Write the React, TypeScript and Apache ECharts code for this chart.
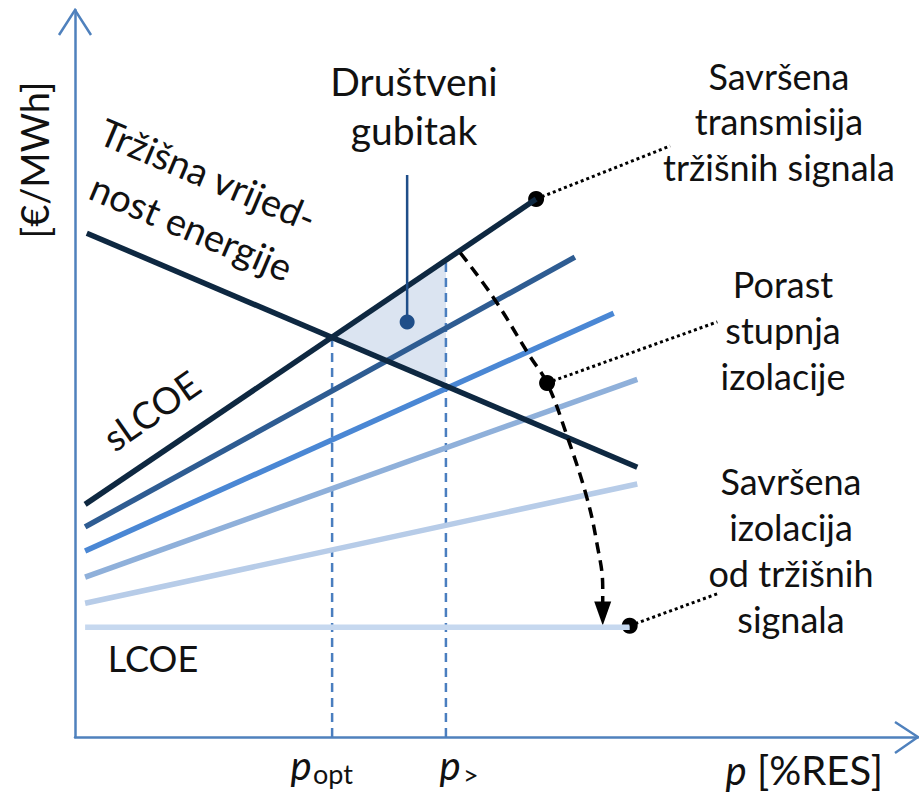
import React, { useEffect, useRef } from "react";
import * as echarts from "echarts";

// ---- data (abstract units: x = %RES share 0..100, y = €/MWh 0..100) ----
const marketValue = [[1.4, 69.3], [66.7, 37.1]];
const sLCOE = [[1.2, 32.0], [54.7, 74.0]];
const isolation1 = [[1.2, 28.9], [59.3, 66.0]];
const isolation2 = [[1.2, 25.6], [63.9, 58.3]];
const isolation3 = [[1.2, 22.0], [66.7, 49.2]];
const isolation4 = [[1.2, 18.4], [66.7, 34.8]];
const LCOE = [[1.2, 15.1], [65.8, 15.1]];

const pOpt = 30.5;
const pGreater = 44.0;
const pOptCross = [pOpt, 55.0];
const pGreaterTop = [pGreater, 65.6];
const pGreaterBottom = [pGreater, 48.3];
const lossArea = [pOptCross, pGreaterTop, pGreaterBottom];

const lossPointer = [[39.4, 77.3], [39.4, 57.1]];
const isolationArrow = [
  [45.7, 66.6], [49.6, 60.5], [54.0, 52.3], [56.0, 48.7], [58.4, 41.3],
  [60.7, 33.0], [61.9, 26.7], [62.6, 20.6], [62.6, 18.2],
];
const arrowHead = [[62.6, 17.0]];
const calloutTransmission = [[54.7, 74.0], [70.6, 81.3]];
const calloutIsolationGrowth = [[56.0, 48.7], [76.2, 57.1]];
const calloutIsolation = [[65.8, 15.3], [76.2, 19.7]];
const blackDots = [[54.7, 74.0], [56.0, 48.7], [65.8, 15.3]];
const lossDot = [[39.4, 57.1]];

const FONT = 'Lato, "Open Sans", sans-serif';
const AXIS = "#4f81bd";
const NAVY = "#0e2841";
const TXT = "#111111";
const LW = 5.5;

function lineSeries(data: number[][], color: string, width = LW, type: any = "solid", smooth: any = false) {
  return {
    type: "line",
    data,
    showSymbol: false,
    symbol: "none",
    smooth,
    silent: true,
    lineStyle: { color, width, type, cap: "butt" },
  };
}

function txt(text: string, x: number, y: number, size: number, extra: any = {}, align = "center") {
  return {
    type: "text",
    x,
    y,
    rotation: extra.rotation || 0,
    style: {
      text,
      fill: TXT,
      fontSize: size,
      fontFamily: FONT,
      fontStyle: extra.italic ? "italic" : "normal",
      lineHeight: extra.lineHeight,
      align,
      verticalAlign: "middle",
      textAlign: align,
      textVerticalAlign: "middle",
    },
  };
}

export default function App() {
  const ref = useRef<HTMLDivElement>(null);
  useEffect(() => {
    if (!ref.current) return;
    const chart = echarts.init(ref.current, undefined, { renderer: "svg" });
    const axisCommon = {
      type: "value",
      min: 0,
      max: 100,
      axisLine: { show: true, onZero: true, lineStyle: { color: AXIS, width: 2.5 } },
      axisTick: { show: false },
      axisLabel: { show: false },
      splitLine: { show: false },
    };
    chart.setOption({
      animation: false,
      backgroundColor: "#ffffff",
      grid: { left: 75, right: 1, top: 10, bottom: 61, containLabel: false },
      xAxis: axisCommon,
      yAxis: axisCommon,
      series: [
        {
          type: "custom",
          data: lossArea,
          encode: { x: 0, y: 1 },
          silent: true,
          renderItem: (params: any, api: any) => {
            if (params.dataIndex !== 0) return null;
            const pts = lossArea.map((p) => api.coord(p));
            return { type: "polygon", shape: { points: pts }, style: { fill: "#dbe4f1" } };
          },
        },
        lineSeries([[pOpt, 0], pOptCross], "#4a7ebf", 2.5, [9, 6]),
        lineSeries([[pGreater, 0], pGreaterTop], "#4a7ebf", 2.5, [9, 6]),
        lineSeries(LCOE, "#c6d8ef"),
        lineSeries(isolation4, "#b7cce8"),
        lineSeries(isolation3, "#8fb0da"),
        lineSeries(isolation2, "#4a87d4"),
        lineSeries(isolation1, "#2e5c92"),
        lineSeries(marketValue, NAVY),
        lineSeries(sLCOE, NAVY),
        lineSeries(lossPointer, "#1f4e89", 2.5),
        lineSeries(isolationArrow, "#000000", 3.5, [11, 7], 0.4),
        lineSeries(calloutTransmission, "#000000", 3, [3, 3]),
        lineSeries(calloutIsolationGrowth, "#000000", 3, [3, 3]),
        lineSeries(calloutIsolation, "#000000", 3, [3, 3]),
        {
          type: "scatter",
          data: arrowHead,
          symbol: "triangle",
          symbolRotate: 180,
          symbolSize: [17, 24],
          itemStyle: { color: "#000000", opacity: 1 },
          silent: true,
        },
        {
          type: "scatter",
          data: blackDots,
          symbolSize: 16,
          itemStyle: { color: "#000000", opacity: 1 },
          silent: true,
        },
        {
          type: "scatter",
          data: lossDot,
          symbolSize: 15,
          itemStyle: { color: "#1f4e89", opacity: 1 },
          silent: true,
        },
      ],
      graphic: [
        { type: "polyline", shape: { points: [[59, 35], [75, 10], [91, 35]] }, style: { stroke: AXIS, lineWidth: 2.5, fill: "none" } },
        { type: "polyline", shape: { points: [[895, 722], [918, 737], [895, 753]] }, style: { stroke: AXIS, lineWidth: 2.5, fill: "none" } },
        txt("[€/MWh]", 34, 160, 38, { rotation: Math.PI / 2 }),
        txt("Tržišna vrijed-", 102, 129, 38, { rotation: -0.401 }, "left"),
        txt("nost energije", 92.5, 184.5, 38, { rotation: -0.401 }, "left"),
        txt("sLCOE", 151, 410, 37, { rotation: 0.611 }),
        txt("LCOE", 153, 658, 36),
        txt("Društveni\ngubitak", 414, 105, 39, { lineHeight: 49 }),
        txt("Savršena\ntransmisija\ntržišnih signala", 779, 121, 36, { lineHeight: 45.5 }),
        txt("Porast\nstupnja\nizolacije", 783, 330, 36, { lineHeight: 46 }),
        txt("Savršena\nizolacija\nod tržišnih\nsignala", 791, 549.5, 36, { lineHeight: 46 }),
        txt("p", 301, 765, 40, { italic: true }),
        txt("opt", 313, 773, 27, {}, "left"),
        txt("p", 450, 765, 40, { italic: true }),
        txt(">", 463, 774, 27, {}, "left"),
        txt("p", 736, 770, 40, { italic: true }),
        txt("[%RES]", 757, 770, 40, {}, "left"),
      ],
    });
    return () => chart.dispose();
  }, []);
  return (
    <div
      ref={ref}
      style={{ position: "absolute", left: 0, top: 0, width: 919, height: 798, background: "#fff" }}
    />
  );
}
